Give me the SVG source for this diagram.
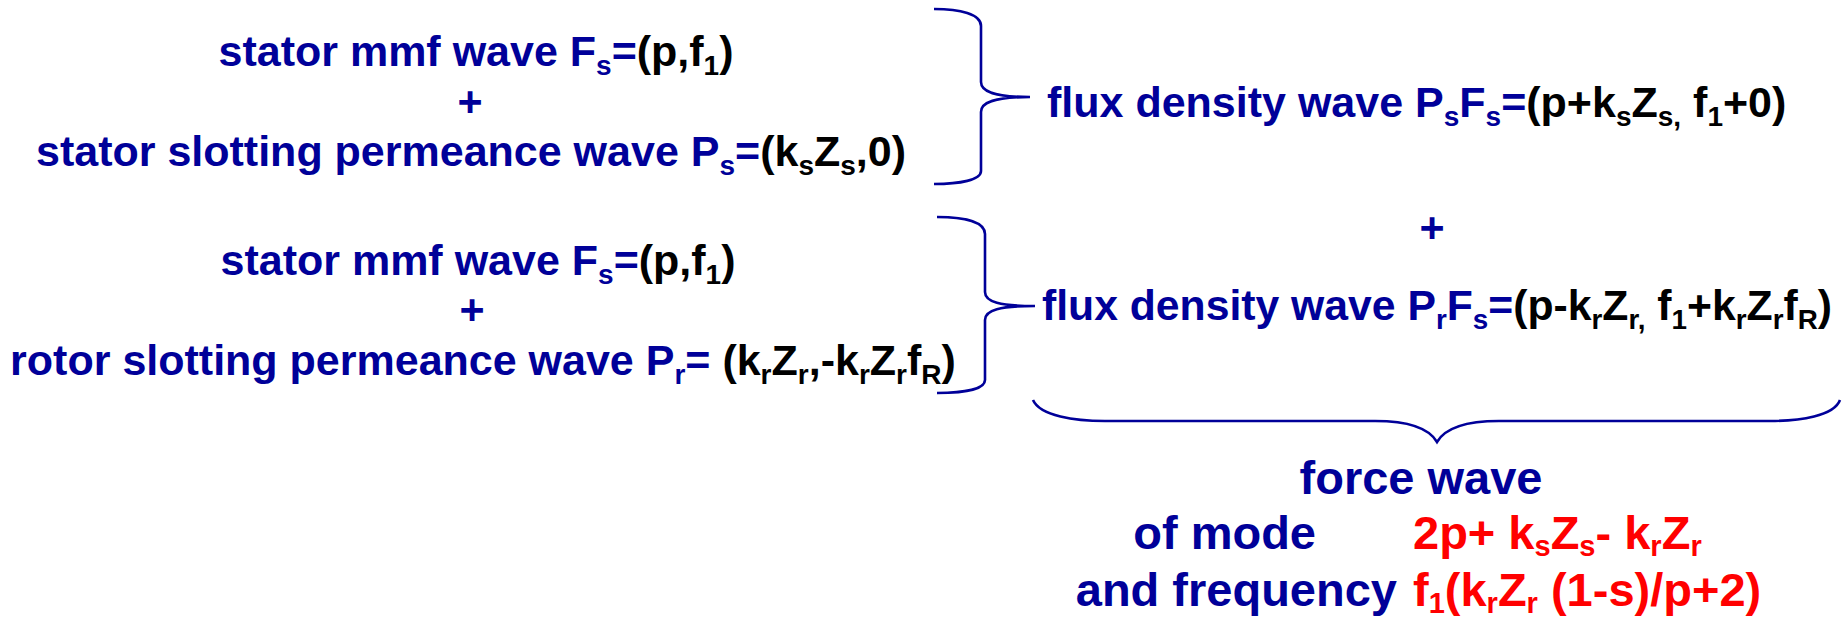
<svg xmlns="http://www.w3.org/2000/svg" width="1847" height="622" viewBox="0 0 1847 622">
<style>
text{font-family:"Liberation Sans",Arial,sans-serif;font-weight:bold;font-size:43px;fill:#000099}
.big{font-size:47px}
.k{fill:#000}
.r{fill:#ff0000}
.sub{font-size:28px}
.big .sub{font-size:29px}
.brace{fill:none;stroke:#000099;stroke-width:2.6}
</style>
<rect width="1847" height="622" fill="#fff"/>
<g id="connectors">
<path class="brace" d="M934,9 C960,9 981,14 981,26 L981,82 C981,92 995,97 1030,97 C995,97 981,102 981,112 L981,171 C981,180 960,184 934,184"/>
<path class="brace" d="M937,217 C965,217 985,222 985,234 L985,292 C985,302 1000,306 1035,306 C1000,306 985,310 985,320 L985,380 C985,389 965,393 937,393"/>
<path class="brace" d="M1033,400 C1040,416 1075,421 1105,421 L1375,421 C1412,421 1430,430 1437,442 C1444,430 1462,421 1499,421 L1770,421 C1800,421 1834,416 1840,400"/>
</g>
<g id="stator-mmf-1">
<text x="476" y="66" text-anchor="middle">stator mmf wave F<tspan class="sub" dy="9">s</tspan><tspan dy="-9">=</tspan><tspan class="k">(p,f</tspan><tspan class="sub k" dy="9">1</tspan><tspan class="k" dy="-9">)</tspan></text>
<text x="470" y="116" text-anchor="middle">+</text>
<text x="471" y="166" text-anchor="middle">stator slotting permeance wave P<tspan class="sub" dy="9">s</tspan><tspan dy="-9">=</tspan><tspan class="k">(k</tspan><tspan class="sub k" dy="9">s</tspan><tspan class="k" dy="-9">Z</tspan><tspan class="sub k" dy="9">s</tspan><tspan class="k" dy="-9">,0)</tspan></text>
</g>
<g id="flux-1">
<text x="1047" y="117">flux density wave P<tspan class="sub" dy="9">s</tspan><tspan dy="-9">F</tspan><tspan class="sub" dy="9">s</tspan><tspan dy="-9">=</tspan><tspan class="k">(p+k</tspan><tspan class="sub k" dy="9">s</tspan><tspan class="k" dy="-9">Z</tspan><tspan class="sub k" dy="9">s,</tspan><tspan class="k" dy="-9"> f</tspan><tspan class="sub k" dy="9">1</tspan><tspan class="k" dy="-9">+0)</tspan></text>
</g>
<g id="stator-mmf-2">
<text x="478" y="275" text-anchor="middle">stator mmf wave F<tspan class="sub" dy="9">s</tspan><tspan dy="-9">=</tspan><tspan class="k">(p,f</tspan><tspan class="sub k" dy="9">1</tspan><tspan class="k" dy="-9">)</tspan></text>
<text x="472" y="324" text-anchor="middle">+</text>
<text x="483" y="375" text-anchor="middle">rotor slotting permeance wave P<tspan class="sub" dy="9">r</tspan><tspan dy="-9">= </tspan><tspan class="k">(k</tspan><tspan class="sub k" dy="9">r</tspan><tspan class="k" dy="-9">Z</tspan><tspan class="sub k" dy="9">r</tspan><tspan class="k" dy="-9">,-k</tspan><tspan class="sub k" dy="9">r</tspan><tspan class="k" dy="-9">Z</tspan><tspan class="sub k" dy="9">r</tspan><tspan class="k" dy="-9">f</tspan><tspan class="sub k" dy="9">R</tspan><tspan class="k" dy="-9">)</tspan></text>
</g>
<g id="plus-right">
<text x="1432" y="242" text-anchor="middle">+</text>
</g>
<g id="flux-2">
<text x="1042" y="320" textLength="790" lengthAdjust="spacingAndGlyphs">flux density wave P<tspan class="sub" dy="9">r</tspan><tspan dy="-9">F</tspan><tspan class="sub" dy="9">s</tspan><tspan dy="-9">=</tspan><tspan class="k">(p-k</tspan><tspan class="sub k" dy="9">r</tspan><tspan class="k" dy="-9">Z</tspan><tspan class="sub k" dy="9">r,</tspan><tspan class="k" dy="-9"> f</tspan><tspan class="sub k" dy="9">1</tspan><tspan class="k" dy="-9">+k</tspan><tspan class="sub k" dy="9">r</tspan><tspan class="k" dy="-9">Z</tspan><tspan class="sub k" dy="9">r</tspan><tspan class="k" dy="-9">f</tspan><tspan class="sub k" dy="9">R</tspan><tspan class="k" dy="-9">)</tspan></text>
</g>
<g id="force-wave">
<text class="big" x="1421" y="494" text-anchor="middle">force wave</text>
<text class="big" x="1316" y="549" text-anchor="end">of mode</text>
<text class="big r" x="1413" y="549">2p+ k<tspan class="sub" dy="7">s</tspan><tspan dy="-7">Z</tspan><tspan class="sub" dy="7">s</tspan><tspan dy="-7">- k</tspan><tspan class="sub" dy="7">r</tspan><tspan dy="-7">Z</tspan><tspan class="sub" dy="7">r</tspan></text>
<text class="big" x="1397" y="606" text-anchor="end">and frequency</text>
<text class="big r" x="1413" y="606">f<tspan class="sub" dy="7">1</tspan><tspan dy="-7">(k</tspan><tspan class="sub" dy="7">r</tspan><tspan dy="-7">Z</tspan><tspan class="sub" dy="7">r</tspan><tspan dy="-7"> (1-s)/p+2)</tspan></text>
</g>
</svg>
